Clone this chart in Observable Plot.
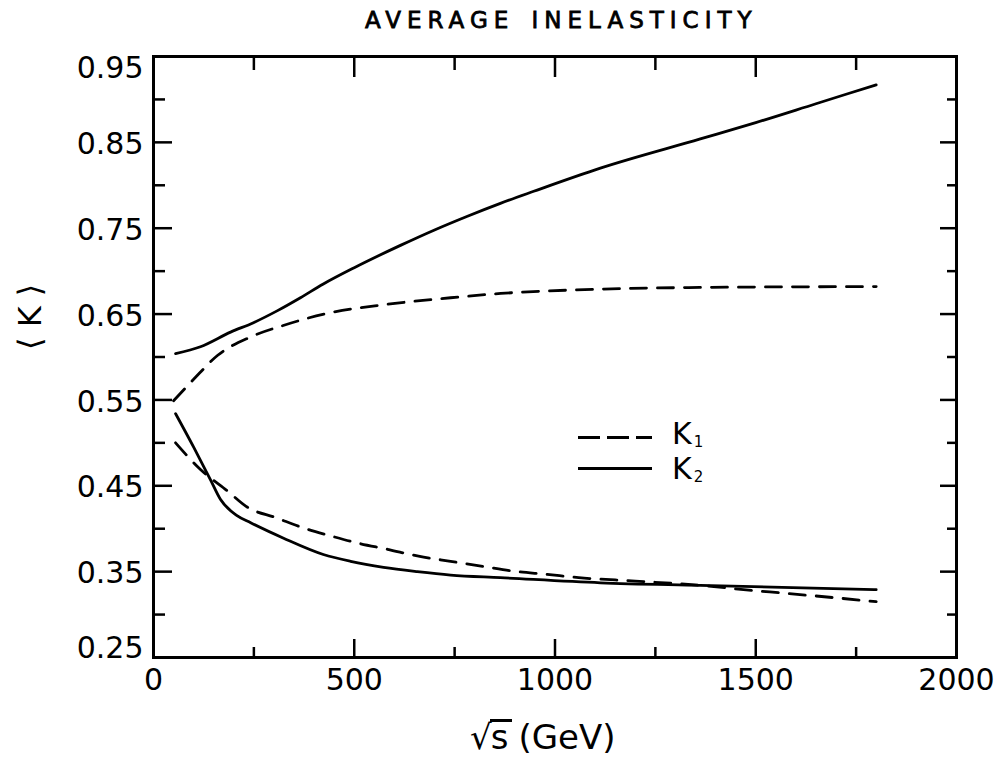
<!DOCTYPE html>
<html><head><meta charset="utf-8">
<script src="https://cdn.jsdelivr.net/npm/d3@7"></script>
<script src="https://cdn.jsdelivr.net/npm/@observablehq/plot@0.6"></script>
<style>
body{margin:0;background:#fff;}
#wrap{position:relative;width:1005px;height:757px;overflow:hidden;font-family:"DejaVu Sans";color:#000;background:#fff;}
#chart{position:absolute;left:0;top:40px;}
#title{position:absolute;left:365px;top:9px;font-family:"DejaVu Sans";font-size:23px;line-height:1;letter-spacing:6px;word-spacing:4px;white-space:nowrap;-webkit-text-stroke:0.8px #000;}
#xlabel{position:absolute;left:470px;top:719px;font-size:34px;line-height:1;white-space:nowrap;}
#xlabel .ol{display:inline-block;border-top:3px solid #000;line-height:0.85;padding:1px 4px 0 1px;margin-left:-2px;margin-right:6px;}
.leg{position:absolute;width:74px;height:3px;}
.leg.dash{background:repeating-linear-gradient(to right,#000 0 22px,transparent 22px 29px);}
.leg.solid{background:#000;}
#legtext{position:absolute;left:672px;top:419px;font-size:30px;line-height:30px;white-space:nowrap;}
#legtext .sub{font-size:15px;position:relative;top:3px;margin-left:2px;}
</style></head><body>
<div id="wrap">
<div id="title">AVERAGE INELASTICITY</div>
<div id="chart"></div>
<div id="xlabel">√<span class="ol">s</span>(GeV)</div>
<div class="leg dash" style="left:578px;top:436px"></div>
<div class="leg solid" style="left:578px;top:467px"></div>
<div id="legtext">K<span class="sub">1</span><br>K<span class="sub">2</span></div>
</div>
<script>
// K1 (dashed) — upper and lower branches
const k1UpperEnergy = [50, 100, 160, 240, 325, 425, 575, 740, 865, 1110, 1360, 1800];
const k1UpperValue  = [0.549, 0.574, 0.602, 0.623, 0.637, 0.650, 0.661, 0.669, 0.674, 0.679, 0.681, 0.682];
const k1LowerEnergy = [55, 117, 184, 234, 304, 379, 446, 511, 583, 660, 740, 822, 907, 976, 1059, 1200, 1362, 1494, 1569, 1711, 1800];
const k1LowerValue  = [0.500, 0.469, 0.444, 0.425, 0.413, 0.400, 0.391, 0.383, 0.376, 0.368, 0.362, 0.356, 0.350, 0.347, 0.343, 0.339, 0.334, 0.328, 0.325, 0.319, 0.315];
// K2 (solid) — upper and lower branches
const k2UpperEnergy = [55, 117, 192, 249, 309, 366, 423, 500, 615, 700, 782, 864, 947, 1113, 1362, 1500, 1650, 1800];
const k2UpperValue  = [0.604, 0.612, 0.629, 0.640, 0.654, 0.669, 0.685, 0.704, 0.730, 0.748, 0.764, 0.779, 0.793, 0.820, 0.854, 0.873, 0.895, 0.917];
const k2LowerEnergy = [55, 100, 142, 167, 209, 242, 324, 423, 491, 573, 657, 740, 864, 1113, 1362, 1800];
const k2LowerValue  = [0.534, 0.495, 0.457, 0.434, 0.415, 0.407, 0.389, 0.370, 0.362, 0.355, 0.350, 0.346, 0.343, 0.337, 0.334, 0.329];

const xTickLabels = [0, 500, 1000, 1500, 2000];
const xMajorTicks = [500, 1000, 1500];
const xMinorTicks = [250, 750, 1250, 1750];
const yTickLabels = [0.25, 0.35, 0.45, 0.55, 0.65, 0.75, 0.85, 0.95];
const yMajorTicks = [0.35, 0.45, 0.55, 0.65, 0.75, 0.85];
const yMinorTicks = [0.30, 0.40, 0.50, 0.60, 0.70, 0.80, 0.90];
const yAxisTitle = "⟨ K ⟩";

function rows(energy, value, curve, series) {
  return energy.map((e, i) => ({energy: e, k: value[i], curve, series}));
}
const k1Data = [...rows(k1UpperEnergy, k1UpperValue, "K1 upper", "K1"), ...rows(k1LowerEnergy, k1LowerValue, "K1 lower", "K1")];
const k2Data = [...rows(k2UpperEnergy, k2UpperValue, "K2 upper", "K2"), ...rows(k2LowerEnergy, k2LowerValue, "K2 lower", "K2")];

const fmtY = d3.format(".2f");
const blank = () => "";

const chart = Plot.plot({
  width: 1005,
  height: 670,
  marginLeft: 153,
  marginRight: 49,
  marginTop: 16,
  marginBottom: 53,
  x: {domain: [0, 2000], label: null},
  y: {domain: [0.25, 0.95], label: null},
  style: {fontFamily: "DejaVu Sans", color: "#000", background: "#fff", overflow: "visible"},
  marks: [
    // inward ticks
    Plot.axisY({anchor: "left", ticks: yMajorTicks, tickSize: 19, dx: 19, tickFormat: blank, strokeWidth: 2.5, label: null}),
    Plot.axisY({anchor: "left", ticks: yMinorTicks, tickSize: 12, dx: 12, tickFormat: blank, strokeWidth: 2.5, label: null}),
    Plot.axisY({anchor: "right", ticks: yMajorTicks, tickSize: 17, dx: -17, tickFormat: blank, strokeWidth: 2.5, label: null}),
    Plot.axisY({anchor: "right", ticks: yMinorTicks, tickSize: 10, dx: -10, tickFormat: blank, strokeWidth: 2.5, label: null}),
    Plot.axisX({anchor: "bottom", ticks: xMajorTicks, tickSize: 18, dy: -18, tickFormat: blank, strokeWidth: 2.5, label: null}),
    Plot.axisX({anchor: "bottom", ticks: xMinorTicks, tickSize: 10, dy: -10, tickFormat: blank, strokeWidth: 2.5, label: null}),
    Plot.axisX({anchor: "top", ticks: xMajorTicks, tickSize: 20, dy: 20, tickFormat: blank, strokeWidth: 2.5, label: null}),
    Plot.axisX({anchor: "top", ticks: xMinorTicks, tickSize: 13, dy: 13, tickFormat: blank, strokeWidth: 2.5, label: null}),
    // tick labels
    Plot.axisY({anchor: "left", ticks: yTickLabels.slice(1, -1), tickSize: 0, tickPadding: 10, dy: 2, tickFormat: fmtY, fontSize: 30, label: null}),
    Plot.axisY({anchor: "left", ticks: yTickLabels.slice(-1), tickSize: 0, tickPadding: 10, dy: 12, tickFormat: fmtY, fontSize: 30, label: null}),
    Plot.axisY({anchor: "left", ticks: yTickLabels.slice(0, 1), tickSize: 0, tickPadding: 10, dy: -9, tickFormat: fmtY, fontSize: 30, label: null}),
    Plot.axisX({anchor: "bottom", ticks: xTickLabels, tickSize: 0, tickPadding: 11, tickFormat: d => String(d), fontSize: 30, label: null}),
    // y axis title
    Plot.text([yAxisTitle], {frameAnchor: "left", text: d => d, rotate: -90, dx: -123, dy: -7, fontSize: 32}),
    // curves
    Plot.line(k1Data, {x: "energy", y: "k", z: "curve", curve: "monotone-x", stroke: "#000", strokeWidth: 2.8, strokeDasharray: "16,11"}),
    Plot.line(k2Data, {x: "energy", y: "k", z: "curve", curve: "monotone-x", stroke: "#000", strokeWidth: 2.8}),
    Plot.frame({stroke: "#000", strokeWidth: 3})
  ]
});
document.getElementById("chart").appendChild(chart);
</script>
</body></html>
